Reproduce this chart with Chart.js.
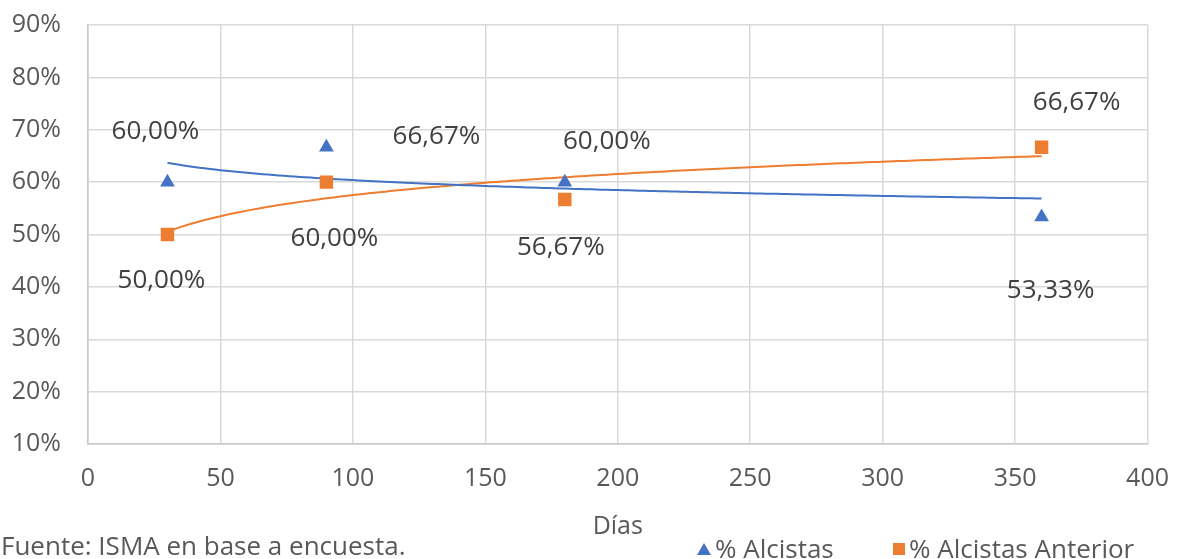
<!DOCTYPE html>
<html>
<head>
<meta charset="utf-8">
<script src="https://cdn.jsdelivr.net/npm/chart.js@4"></script>
<style>
  html, body { margin: 0; padding: 0; background: #fff; }
  #wrap { position: relative; width: 1179px; height: 559px; overflow: hidden; }
  #chart { position: absolute; left: 0; top: -17px; }
  .note { position: absolute; font-family: "Open Sans", sans-serif; font-size: 26px; color: #595959; white-space: nowrap; line-height: 30px; }
  #fuente { left: 1px; top: 530px; }
  #legend { left: 697px; top: 533px; }
  #legend span.item { position: absolute; top: 0; }
  #legend i { display: inline-block; vertical-align: middle; margin-right: 4px; position: relative; top: -2px; }
</style>
</head>
<body>
<div id="wrap">
  <canvas id="chart" width="1189" height="576"></canvas>
  <div class="note" id="fuente">Fuente: ISMA en base a encuesta.</div>
  <div class="note" id="legend"></div>
</div>
<script>
const dias = [30, 90, 180, 360];
const alcistas = [60.00, 66.67, 60.00, 53.33];
const alcistasAnterior = [50.00, 60.00, 56.67, 66.67];
const yTicks = [10, 20, 30, 40, 50, 60, 70, 80, 90];
const xTicks = [0, 50, 100, 150, 200, 250, 300, 350, 400];

// label placement (px offset from marker), like the moved Excel labels
const offsetsAlcistas = [[-12, -52], [110, -12], [42, -42], [9, 73]];
const offsetsAnterior = [[-6, 45], [8, 55], [-4, 47], [35, -46]];

const BLUE = "#4472C4";
const ORANGE = "#ED7D31";

// logarithmic trend line (least squares on ln x), as Excel does
function logTrend(xs, ys) {
  const lx = xs.map(Math.log);
  const n = xs.length;
  const mx = lx.reduce((a, b) => a + b, 0) / n;
  const my = ys.reduce((a, b) => a + b, 0) / n;
  let sxy = 0, sxx = 0;
  lx.forEach((v, i) => { sxy += (v - mx) * (ys[i] - my); sxx += (v - mx) * (v - mx); });
  const b = sxy / sxx;
  const a = my - b * mx;
  const pts = [];
  for (let x = xs[0]; x <= xs[n - 1]; x += 2) pts.push({ x: x, y: a + b * Math.log(x) });
  return pts;
}

const fmt = (v) => v.toFixed(2).replace(".", ",") + "%";

const labelPlugin = {
  id: "pointLabels",
  afterDatasetsDraw(chart) {
    const ctx = chart.ctx;
    ctx.save();
    ctx.font = '26px "Open Sans"';
    ctx.fillStyle = "#404040";
    ctx.textAlign = "center";
    ctx.textBaseline = "middle";
    chart.data.datasets.forEach((ds, i) => {
      if (!ds.offsets) return;
      chart.getDatasetMeta(i).data.forEach((el, j) => {
        const [dx, dy] = ds.offsets[j];
        ctx.fillText(fmt(ds.data[j].y), el.x + dx, el.y + dy + 1);
      });
    });
    ctx.restore();
  }
};

const toPoints = (ys) => ys.map((y, i) => ({ x: dias[i], y: y }));

const chart = new Chart(document.getElementById("chart"), {
  type: "scatter",
  data: {
    datasets: [
      {
        label: "% Alcistas",
        data: toPoints(alcistas),
        offsets: offsetsAlcistas,
        pointStyle: "triangle",
        pointRadius: 8.5,
        backgroundColor: BLUE,
        borderColor: BLUE,
        borderWidth: 0,
        order: 1
      },
      {
        label: "% Alcistas Anterior",
        data: toPoints(alcistasAnterior),
        offsets: offsetsAnterior,
        pointStyle: "rect",
        pointRadius: 9.5,
        backgroundColor: ORANGE,
        borderColor: ORANGE,
        borderWidth: 0,
        order: 1
      },
      {
        type: "line",
        label: "trend1",
        data: logTrend(dias, alcistas),
        borderColor: BLUE,
        borderWidth: 2,
        pointRadius: 0,
        fill: false,
        order: 2
      },
      {
        type: "line",
        label: "trend2",
        data: logTrend(dias, alcistasAnterior),
        borderColor: ORANGE,
        borderWidth: 2,
        pointRadius: 0,
        fill: false,
        order: 2
      }
    ]
  },
  options: {
    responsive: false,
    animation: false,
    layout: { padding: { top: 7, right: 22, left: 0, bottom: 0 } },
    plugins: {
      legend: { display: false },
      tooltip: { enabled: false }
    },
    scales: {
      x: {
        type: "linear",
        min: 0,
        max: 400,
        afterBuildTicks: (s) => { s.ticks = xTicks.map((v) => ({ value: v })); },
        afterFit: (s) => { s.height = 115; },
        grid: { color: "#d9d9d9", lineWidth: 1.5, drawTicks: false },
        border: { color: "#c8c8c8", width: 1.5 },
        ticks: { color: "#595959", font: { family: "Open Sans", size: 25 }, padding: 20 },
        title: {
          display: true,
          text: "Días",
          color: "#595959",
          font: { family: "Open Sans", size: 25 },
          padding: { top: 0, bottom: 17 }
        }
      },
      y: {
        type: "linear",
        min: 10,
        max: 90,
        afterBuildTicks: (s) => { s.ticks = yTicks.map((v) => ({ value: v })); },
        afterFit: (s) => { s.width = 88; },
        grid: { color: "#d9d9d9", lineWidth: 1.5, drawTicks: false },
        border: { color: "#c8c8c8", width: 1.5 },
        ticks: { color: "#595959", font: { family: "Open Sans", size: 25 }, padding: 27, callback: (v) => v + "%" }
      }
    }
  },
  plugins: [labelPlugin]
});

// legend built from the two marker datasets
const legend = document.getElementById("legend");
const legendX = [0, 196];
chart.data.datasets.slice(0, 2).forEach((ds, k) => {
  const item = document.createElement("span");
  item.className = "item";
  item.style.left = legendX[k] + "px";
  const mark = document.createElement("i");
  if (ds.pointStyle === "triangle") {
    mark.style.cssText = "width:0;height:0;border-left:7px solid transparent;border-right:7px solid transparent;border-bottom:12px solid " + ds.backgroundColor;
  } else {
    mark.style.cssText = "width:12px;height:12px;background:" + ds.backgroundColor;
  }
  item.appendChild(mark);
  item.appendChild(document.createTextNode(ds.label));
  legend.appendChild(item);
});
</script>
</body>
</html>
